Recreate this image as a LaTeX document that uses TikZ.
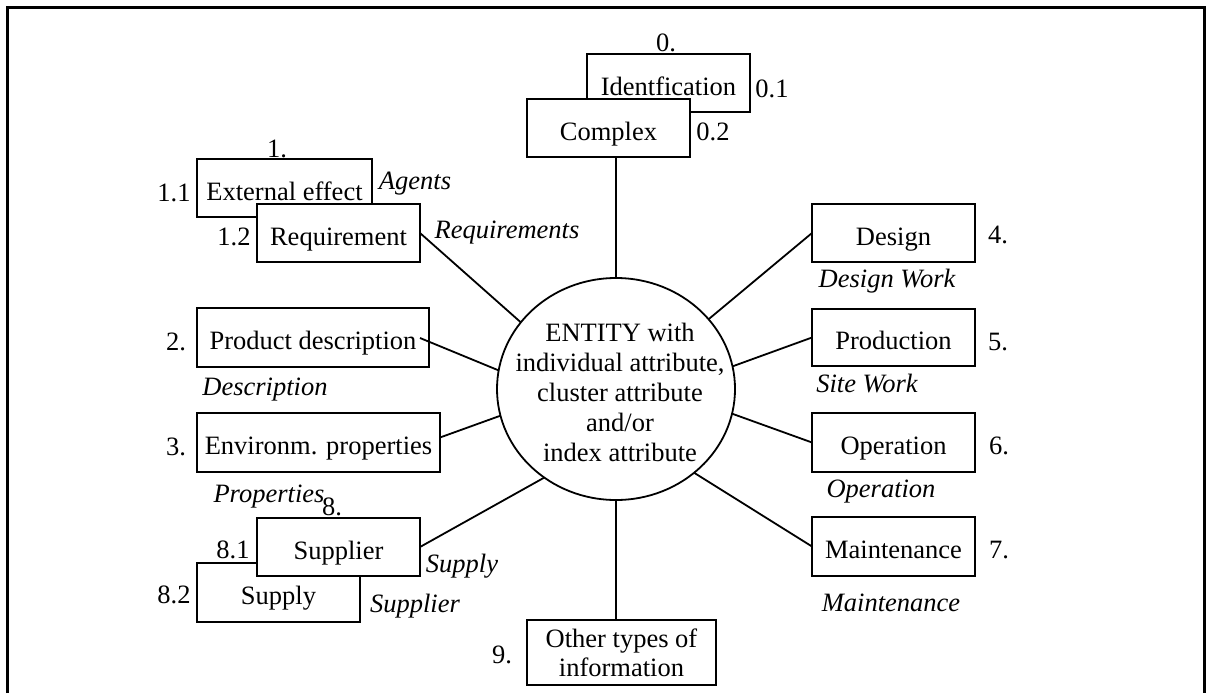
\documentclass[tikz,border=0pt]{standalone}
\usepackage{fontspec}
\setmainfont{Liberation Serif}
\usetikzlibrary{shapes.geometric,calc}
\begin{document}
\begin{tikzpicture}[x=1pt,y=-1pt,
  font=\fontsize{26.5pt}{30pt}\selectfont,
  box/.style={draw, line width=2pt, fill=white, inner sep=0pt, outer sep=0pt,
    minimum width=163pt, minimum height=58pt, text height=24pt, text depth=0pt},
  num/.style={anchor=base, inner sep=0pt},
  lab/.style={anchor=base, inner sep=0pt, font=\fontsize{26.5pt}{30pt}\selectfont\itshape},
  link/.style={line width=1.8pt}]
\useasboundingbox (0,0) rectangle (1206,693);

% outer frame, open at the bottom
\draw[line width=3pt] (7,693) -- (7,8) -- (1204,8) -- (1204,693);

% central entity
\node[draw, ellipse, line width=1.8pt, inner sep=0pt, outer sep=0pt,
      minimum width=238pt, minimum height=222pt] (ent) at (616,389) {};
\node[align=center, inner sep=0pt] (enttext) at (620,392)
  {ENTITY with\\individual attribute,\\cluster attribute\\and/or\\index attribute};

% group 0
\node[box] (idf) at (668.5,83) {Identfication};
\node[box] (cx) at (608.5,128) {Complex};
\node[num] (n0) at (666,52) {0.};
\node[num] (n01) at (772,97) {0.1};
\node[num] (n02) at (713,140) {0.2};

% group 1
\node[box, minimum width=175pt] (ext) at (284.5,188) {External effect};
\node[box] (req) at (338.5,233) {Requirement};
\node[num] (n1) at (277,157) {1.};
\node[num] (n11) at (174,201) {1.1};
\node[num] (n12) at (234,245) {1.2};
\node[lab] (lagents) at (415,189) {Agents};
\node[lab] (lreq) at (507,238) {Requirements};

% groups 2 and 3
\node[box, minimum width=232pt, minimum height=59pt] (pd) at (313,337.5) {Product description};
\node[num] (n2) at (176,350) {2.};
\node[lab] (ldesc) at (265,395) {Description};
\node[box, minimum width=243pt, minimum height=59pt] (env) at (318.5,442.5) {Environm. properties};
\node[num] (n3) at (176,455) {3.};
\node[lab] (lprop) at (269,502) {Properties};

% group 8
\node[box, minimum height=59pt] (spy) at (278.5,592.5) {Supply};
\node[box] (spl) at (338.5,547) {Supplier};
\node[num] (n8) at (332,515) {8.};
\node[num] (n81) at (233,558) {8.1};
\node[num] (n82) at (174,603) {8.2};
\node[lab] (lsupply) at (462,572) {Supply};
\node[lab] (lsupplier) at (415,612) {Supplier};

% group 9
\node[draw, line width=2pt, fill=white, inner sep=0pt, outer sep=0pt, align=center,
      minimum width=189pt, minimum height=65pt] (oth) at (621.5,652.5)
  {Other types of\\[-1pt]information};
\node[num] (n9) at (502,663) {9.};

% groups 4 to 7
\node[box] (des) at (893.5,233) {Design};
\node[num] (n4) at (998,243) {4.};
\node[lab] (ldes) at (887,287) {Design Work};
\node[box, minimum height=57pt] (prd) at (893.5,337.5) {Production};
\node[num] (n5) at (998,350) {5.};
\node[lab] (lsite) at (867,392) {Site Work};
\node[box, minimum height=59pt] (opr) at (893.5,442.5) {Operation};
\node[num] (n6) at (999,454) {6.};
\node[lab] (lopr) at (881,497) {Operation};
\node[box, minimum height=59pt] (mnt) at (893.5,546.5) {Maintenance};
\node[num] (n7) at (999,558) {7.};
\node[lab] (lmnt) at (891,611) {Maintenance};

% connectors to the entity
\coordinate (pdtail) at (420,338);
\draw[link] (ent.north) -- (ent.north |- cx.south);
\draw[link] (req.east) -- (ent.145);
\draw[link] (pdtail) -- (ent.171);
\draw[link] ($(env.east)+(0,-5)$) -- (ent.193);
\draw[link] (spl.east) -- (ent.231);
\draw[link] (ent.south) -- (ent.south |- oth.north);
\draw[link] (ent.313) -- (mnt.west);
\draw[link] (ent.348) -- (opr.west);
\draw[link] (ent.11) -- (prd.west);
\draw[link] (ent.37) -- (des.west);
\end{tikzpicture}
\end{document}
